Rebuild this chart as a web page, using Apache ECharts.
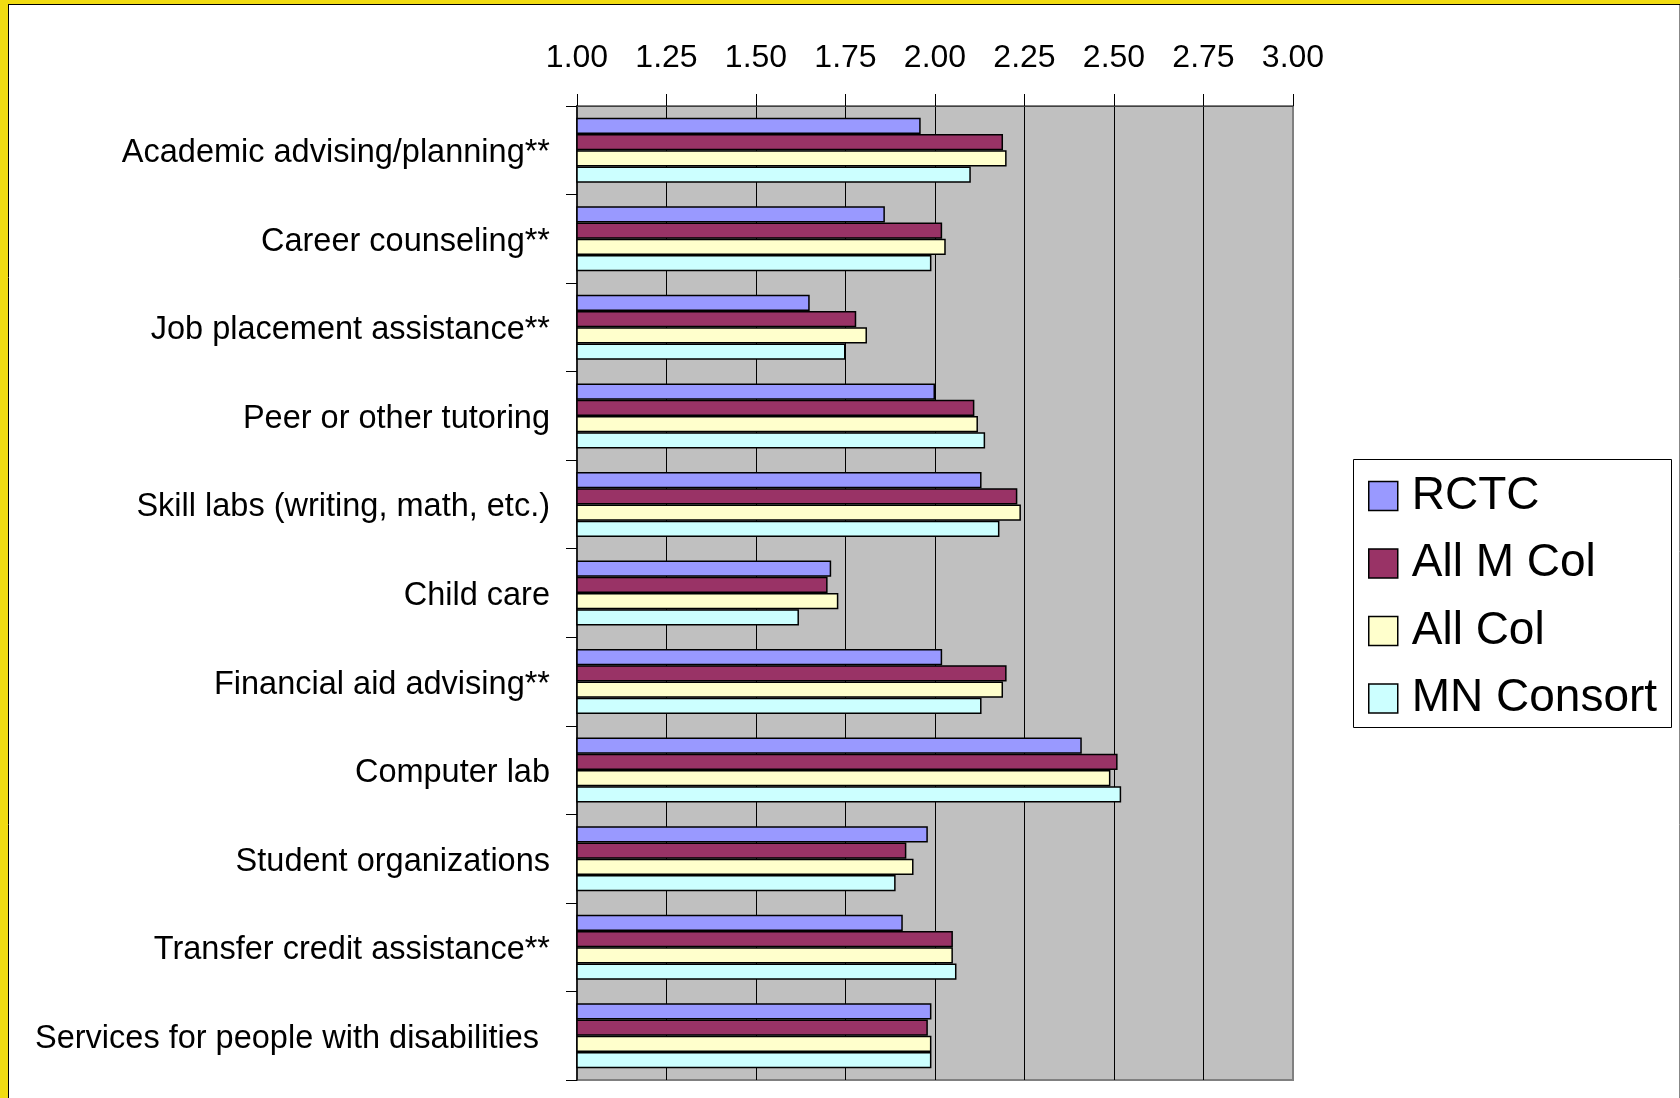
<!DOCTYPE html>
<html>
<head>
<meta charset="utf-8">
<title>Student services ratings</title>
<script src="https://cdn.jsdelivr.net/npm/echarts@6/dist/echarts.min.js"></script>
<style>
  html, body { margin: 0; padding: 0; background: #ffffff; }
  #chart { width: 1680px; height: 1098px; }
</style>
</head>
<body>
<div id="chart"></div>
<script>
// Service categories, listed top to bottom
const categories = [
  'Academic advising/planning**',
  'Career counseling**',
  'Job placement assistance**',
  'Peer or other tutoring',
  'Skill labs (writing, math, etc.)',
  'Child care',
  'Financial aid advising**',
  'Computer lab',
  'Student organizations',
  'Transfer credit assistance**',
  'Services for people with disabilities'
];

// Mean ratings per group
const rctc      = [1.96, 1.86, 1.65, 2.00, 2.13, 1.71, 2.02, 2.41, 1.98, 1.91, 1.99];
const allMCol   = [2.19, 2.02, 1.78, 2.11, 2.23, 1.70, 2.20, 2.51, 1.92, 2.05, 1.98];
const allCol    = [2.20, 2.03, 1.81, 2.12, 2.24, 1.73, 2.19, 2.49, 1.94, 2.05, 1.99];
const mnConsort = [2.10, 1.99, 1.75, 2.14, 2.18, 1.62, 2.13, 2.52, 1.89, 2.06, 1.99];

const seriesNames = ['RCTC', 'All M Col', 'All Col', 'MN Consort'];
const seriesData = [rctc, allMCol, allCol, mnConsort];
const seriesColors = ['#9999FF', '#993366', '#FFFFCC', '#CCFFFF'];

// Value axis range and step
const axisMin = 1.0;
const axisMax = 3.0;
const axisStep = 0.25;

const FONT = '"Liberation Sans", Arial, Helvetica, sans-serif';
const lastCategory = categories[categories.length - 1];

const chart = echarts.init(document.getElementById('chart'), null, { renderer: 'canvas' });

const option = {
  animation: false,
  backgroundColor: '#ffffff',
  textStyle: { fontFamily: FONT, color: '#000000' },
  grid: {
    left: 577,
    right: 387,
    top: 106,
    bottom: 18,
    show: true,
    backgroundColor: '#C0C0C0',
    borderColor: '#808080',
    borderWidth: 2
  },
  xAxis: {
    type: 'value',
    position: 'top',
    min: axisMin,
    max: axisMax,
    interval: axisStep,
    axisLine: { show: true, lineStyle: { color: '#404040', width: 1 } },
    axisTick: { show: true, inside: false, length: 12, lineStyle: { color: '#000000', width: 1 } },
    axisLabel: {
      margin: 32,
      fontSize: 32,
      fontFamily: FONT,
      color: '#000000',
      formatter: v => v.toFixed(2)
    },
    splitLine: {
      show: true,
      showMinLine: false,
      showMaxLine: false,
      lineStyle: { color: '#000000', width: 1 }
    }
  },
  yAxis: {
    type: 'category',
    data: categories,
    inverse: true,
    axisLine: { show: true, lineStyle: { color: '#000000', width: 1.5 } },
    axisTick: { show: true, inside: false, length: 11, alignWithLabel: false, lineStyle: { color: '#000000', width: 1 } },
    axisLabel: {
      margin: 27,
      fontSize: 32.5,
      fontFamily: FONT,
      color: '#000000',
      padding: [6, 0, 0, 0],
      formatter: v => (v === lastCategory ? '{pad|' + v + '}' : v),
      rich: {
        pad: { fontSize: 32.5, fontFamily: FONT, color: '#000000', padding: [0, 11, 0, 0] }
      }
    },
    splitLine: { show: false }
  },
  legend: {
    orient: 'vertical',
    left: 1353,
    top: 459,
    z: 10,
    data: seriesNames,
    icon: 'rect',
    itemWidth: 29,
    itemHeight: 29,
    itemGap: 14.5,
    padding: [10.5, 10, 2, 15],
    borderWidth: 0,
    itemStyle: { borderColor: '#000000', borderWidth: 1.5 },
    textStyle: {
      fontSize: 46,
      lineHeight: 46,
      fontFamily: FONT,
      color: '#000000',
      padding: [7, 0, 0, 9]
    }
  },
  graphic: [
    // legend frame
    { type: 'rect', silent: true, z: 1, shape: { x: 1353.5, y: 459.5, width: 318, height: 268 }, style: { fill: '#ffffff', stroke: '#000000', lineWidth: 1 } },
    // yellow frame along the left and top edges
    { type: 'rect', silent: true, z: 100, shape: { x: 0, y: 0, width: 8, height: 1098 }, style: { fill: '#F1DC12' } },
    { type: 'rect', silent: true, z: 100, shape: { x: 0, y: 0, width: 1680, height: 4 }, style: { fill: '#F1DC12' } },
    { type: 'line', silent: true, z: 100, shape: { x1: 8.5, y1: 4, x2: 8.5, y2: 1098 }, style: { stroke: '#000000', lineWidth: 1 } },
    { type: 'line', silent: true, z: 100, shape: { x1: 8, y1: 4.5, x2: 1680, y2: 4.5 }, style: { stroke: '#000000', lineWidth: 1 } },
    { type: 'line', silent: true, z: 100, shape: { x1: 1679.5, y1: 5, x2: 1679.5, y2: 1098 }, style: { stroke: '#888888', lineWidth: 1 } }
  ],
  series: seriesNames.map((name, i) => ({
    name: name,
    type: 'bar',
    data: seriesData[i],
    barGap: '0%',
    barCategoryGap: '26.6%',
    clip: true,
    itemStyle: {
      color: seriesColors[i],
      borderColor: '#000000',
      borderWidth: 1.5
    },
    emphasis: { disabled: true }
  }))
};

chart.setOption(option);
</script>
</body>
</html>
